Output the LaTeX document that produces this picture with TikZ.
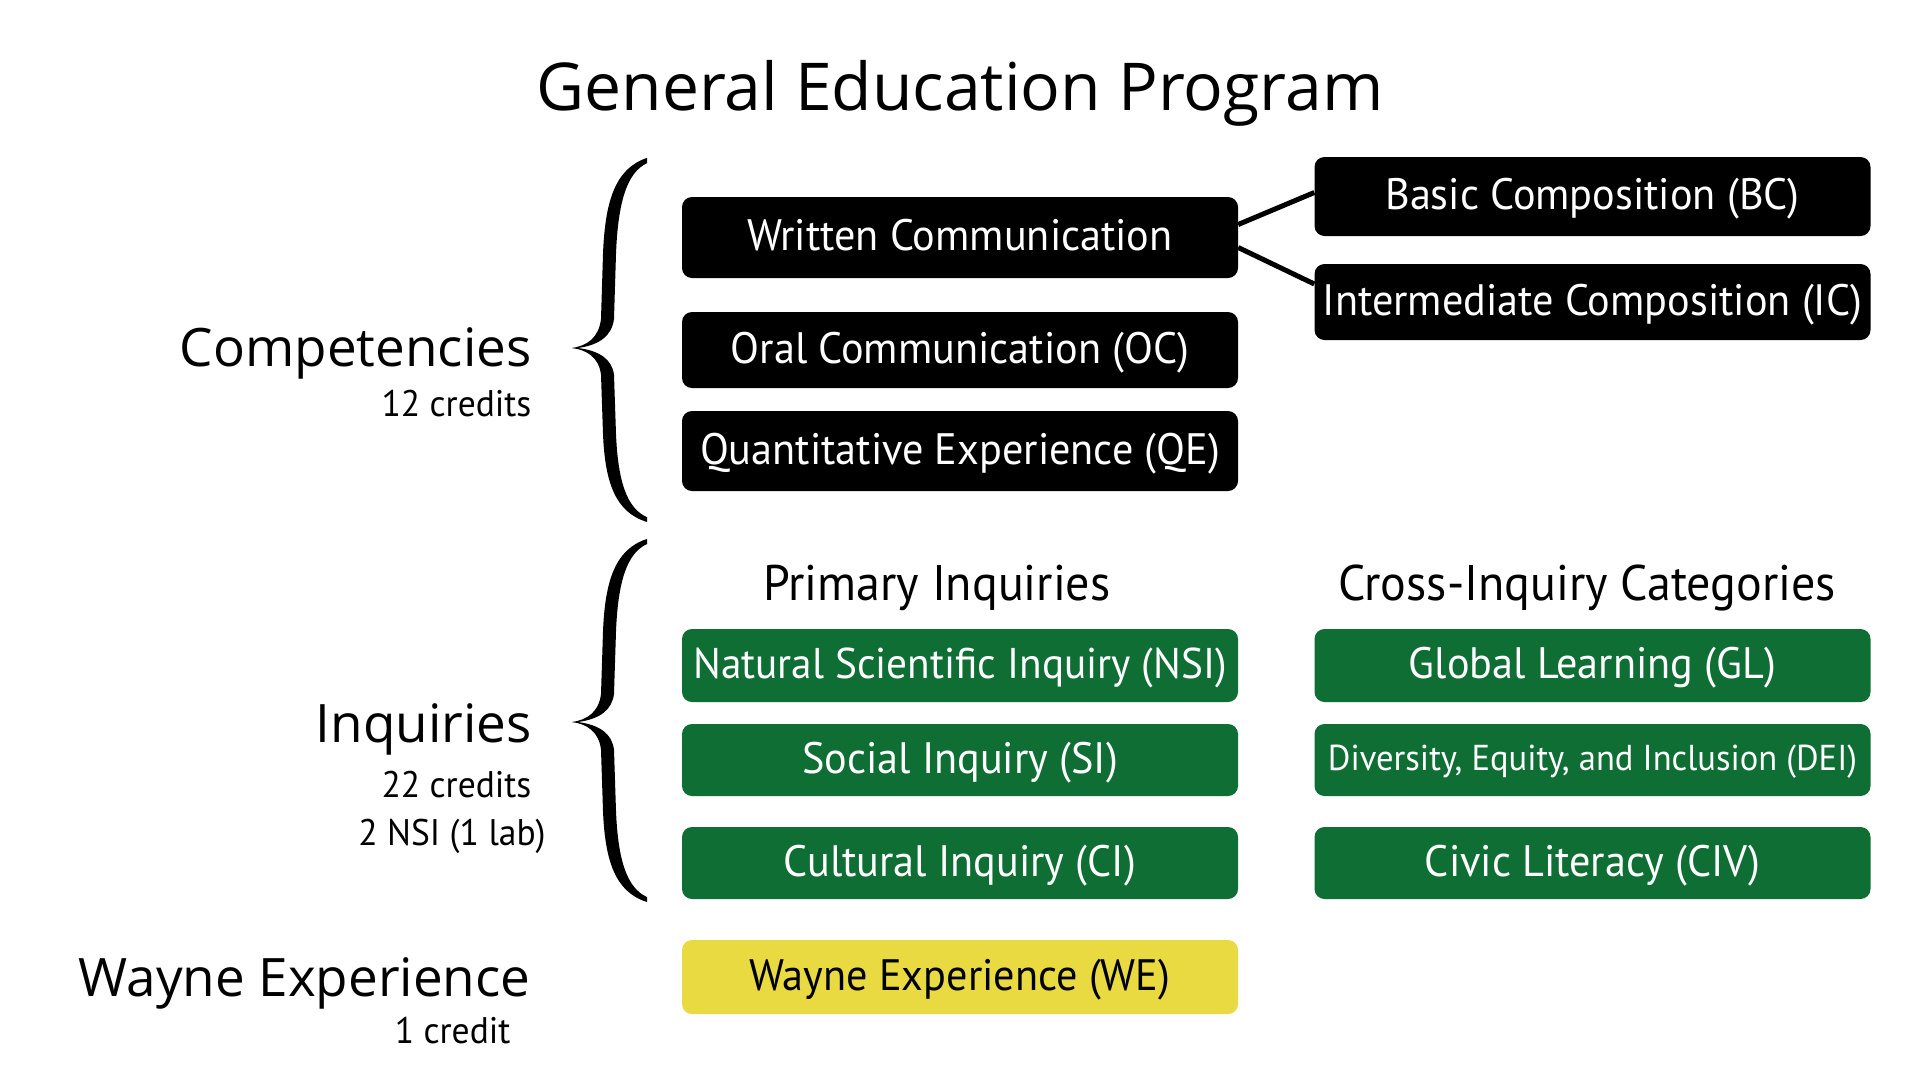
\documentclass[tikz,border=0pt]{standalone}
\usepackage{fontspec}
\setmainfont{Open Sans}
\newfontfamily\boxfont[FakeStretch=0.96]{PT Sans}
\definecolor{gegreen}{RGB}{14,110,52}
\definecolor{geyellow}{RGB}{232,218,64}
\newcommand\gebracehalf{%
  (0,0) .. controls (15,-2) and (27,-10) .. (29,-28) -- (31,-90)
  .. controls (33,-140) and (43,-172) .. (75,-182) -- (75,-177)
  .. controls (55,-168) and (46,-140) .. (44,-90) -- (42,-28)
  .. controls (40,-12) and (28,-3) .. (6,0) -- cycle}
\newcommand\gebrace[4]{%
  \begin{scope}[shift={(#1,#2)}, yscale=#3/180]
    \fill \gebracehalf;
  \end{scope}
  \begin{scope}[shift={(#1,#2)}, yscale=-#4/180]
    \fill \gebracehalf;
  \end{scope}}
\begin{document}
\begin{tikzpicture}[x=1pt,y=-1pt,
  base/.style={rounded corners=10pt, minimum width=556pt, text=white, inner sep=0pt,
    font=\boxfont\fontsize{44}{48}\selectfont, text height=28pt, text depth=2pt, anchor=center},
  blackbox/.style={base, fill=black},
  greenbox/.style={base, fill=gegreen},
  yellowbox/.style={base, fill=geyellow, text=black},
  bigtitle/.style={font=\fontsize{66}{70}\selectfont, anchor=base},
  grouplabel/.style={font=\fontsize{53}{58}\selectfont, anchor=base east},
  sublabel/.style={font=\boxfont\fontsize{37}{40}\selectfont, anchor=base east},
  heading/.style={font=\boxfont\fontsize{50}{54}\selectfont, anchor=base},
  link/.style={line width=5pt}]
\useasboundingbox[fill=white] (0,0) rectangle (1920,1080);

\node[bigtitle] (title) at (960,110) {General Education Program};

% left labels
\node[grouplabel] (comp) at (535,366) {Competencies};
\node[sublabel] (compcr) at (535,416) {12 credits};
\node[grouplabel] (inq) at (535,742) {Inquiries};
\node[sublabel] (inqcr) at (535,797) {22 credits};
\node[sublabel] (inqnsi) at (549,845) {2 NSI (1 lab)};
\node[grouplabel] (wayne) at (534,996) {Wayne Experience};
\node[sublabel] (waynecr) at (514,1043) {1 credit};

% braces
\gebrace{572}{348}{188}{172}
\gebrace{572}{722}{181}{178}

% competencies
\node[blackbox, minimum height=81pt] (wc) at (960,237.5) {Written Communication};
\node[blackbox, minimum height=76pt] (oc) at (960,350) {Oral Communication (OC)};
\node[blackbox, minimum height=80pt] (qe) at (960,451) {Quantitative Experience (QE)};
\node[blackbox, minimum height=79pt] (bc) at (1592.5,196.5) {Basic Composition (BC)};
\node[blackbox, minimum height=76pt] (ic) at (1592.5,302) {Intermediate Composition (IC)};
\draw[link] ([yshift=13pt]wc.east) -- ([yshift=4pt]bc.west);
\draw[link] ([yshift=-10pt]wc.east) -- ([yshift=18pt]ic.west);

% inquiries
\node[heading] (prim) at (937,600) {Primary Inquiries};
\node[heading] (cross) at (1587,600) {Cross-Inquiry Categories};
\node[greenbox, minimum height=73pt, font=\boxfont\fontsize{43}{47}\selectfont] (nsi) at (960,665.5) {Natural Scientific Inquiry (NSI)};
\node[greenbox, minimum height=72pt] (si) at (960,760) {Social Inquiry (SI)};
\node[greenbox, minimum height=72pt] (ci) at (960,863) {Cultural Inquiry (CI)};
\node[greenbox, minimum height=73pt] (gl) at (1592.5,665.5) {Global Learning (GL)};
\node[greenbox, minimum height=72pt, font=\boxfont\fontsize{36}{40}\selectfont, text height=23pt, text depth=2pt] (dei) at (1592.5,760) {Diversity, Equity, and Inclusion (DEI)};
\node[greenbox, minimum height=72pt] (civ) at (1592.5,863) {Civic Literacy (CIV)};

% wayne experience
\node[yellowbox, minimum height=74pt] (we) at (960,977) {Wayne Experience (WE)};
\end{tikzpicture}
\end{document}
